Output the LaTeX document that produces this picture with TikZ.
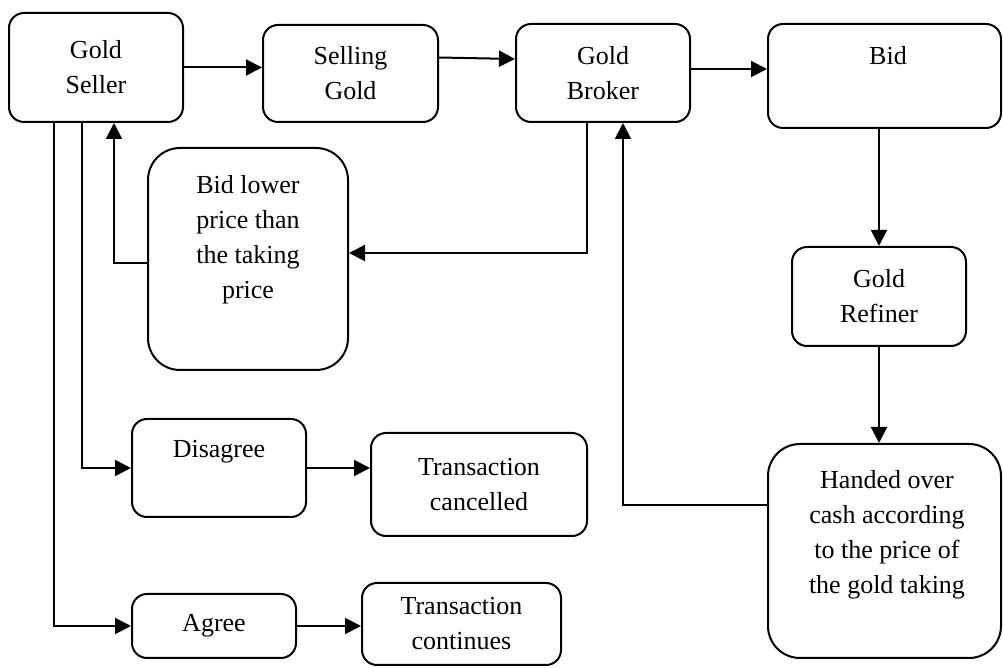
\documentclass[tikz,border=0pt]{standalone}
\usepackage{fontspec}
\setmainfont{Liberation Serif}
\usetikzlibrary{arrows.meta}

\tikzset{
  box/.style={draw, line width=1pt, rounded corners=7.5pt, align=center, inner sep=0pt},
  bigbox/.style={box, rounded corners=16pt},
  txt/.style={align=center, inner sep=0pt},
  arr/.style={line width=1pt, -{Triangle[length=8pt,width=8pt]}}
}

\begin{document}
\begin{tikzpicture}[x=0.5pt, y=-0.5pt, font=\fontsize{13}{17.5}\selectfont]
                \useasboundingbox (0,0) rectangle (1003,668);

                % top row
                \node[box, minimum width=87pt, minimum height=54.5pt] (seller) at (96,67.5) {Gold\\Seller};
                \node[box, minimum width=87.5pt, minimum height=48.5pt] (selling) at (350.5,73.5) {Selling\\Gold};
                \node[box, minimum width=87pt, minimum height=49pt] (broker) at (603,73) {Gold\\Broker};
                \node[box, minimum width=116.5pt, minimum height=52pt] (bid) at (884.5,76) {};
                \node[txt] (bid-t) at (888,56) {Bid};

                % middle
                \node[bigbox, minimum width=100pt, minimum height=111pt] (lower) at (248,259) {};
                \node[txt] (lower-t) at (248,240) {Bid lower\\price than\\the taking\\price};
                \node[box, minimum width=87pt, minimum height=49.5pt] (refiner) at (879,296.5) {Gold\\Refiner};
                \node[bigbox, minimum width=116.5pt, minimum height=107pt] (handed) at (884.5,551) {};
                \node[txt] (handed-t) at (887,535) {Handed over\\cash according\\to the price of\\the gold taking};

                % bottom rows
                \node[box, minimum width=87pt, minimum height=49pt] (disagree) at (219,468) {};
                \node[txt] (disagree-t) at (219,452) {Disagree};
                \node[box, minimum width=108pt, minimum height=51.5pt] (cancelled) at (479,484.5) {Transaction\\cancelled};
                \node[box, minimum width=82pt, minimum height=32pt] (agree) at (214,626) {Agree};
                \node[box, minimum width=99.5pt, minimum height=41pt] (continues) at (461.5,624) {Transaction\\continues};

                % arrows
                \draw[arr] (seller.east) -- (seller.east -| selling.west);
                \draw[arr] ([yshift=8pt]selling.east) -- ([yshift=7pt]broker.west);
                \draw[arr] ([yshift=2pt]broker.east) -- ([yshift=3.5pt]bid.west);
                \draw[arr] (refiner.north |- bid.south) -- (refiner.north);
                \draw[arr] (refiner.south) -- (refiner.south |- handed.north);
                \draw[arr] ([yshift=23pt]handed.west) -| ([xshift=10pt]broker.south);
                \draw[arr] ([xshift=-8pt]broker.south) |- ([yshift=3pt]lower.east);
                \draw[arr] ([yshift=-2pt]lower.west) -| ([xshift=9pt]seller.south);
                \draw[arr] ([xshift=-7pt]seller.south) |- (disagree.west);
                \draw[arr] ([xshift=-21pt]seller.south) |- (agree.west);
                \draw[arr] (disagree.east) -- (disagree.east -| cancelled.west);
                \draw[arr] (agree.east) -- (agree.east -| continues.west);
            \end{tikzpicture}
\end{document}
